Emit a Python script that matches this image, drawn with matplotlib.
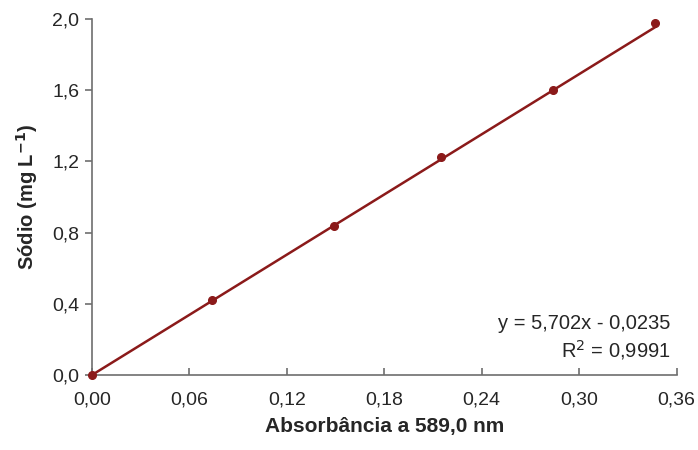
import matplotlib
matplotlib.use("Agg")
import matplotlib.pyplot as plt
import numpy as np
from matplotlib.ticker import FuncFormatter

plt.rcParams["font.family"] = ["Liberation Sans", "DejaVu Sans"]

# Calibration points
absorbance = [0.0, 0.074, 0.149, 0.215, 0.284, 0.347]
sodium = [0.0, 0.42, 0.838, 1.222, 1.602, 1.975]

# Linear fit reported on the chart
slope = 5.702
intercept = -0.0235
r_squared = 0.9991

x_ticks = [0.0, 0.06, 0.12, 0.18, 0.24, 0.30, 0.36]
y_ticks = [0.0, 0.4, 0.8, 1.2, 1.6, 2.0]

red = "#8b1a1a"
axis_grey = "#6e6e6e"
text_col = "#262626"

fig = plt.figure(figsize=(6.98, 4.5), dpi=100)
ax = fig.add_axes([0.1318, 0.1667, 0.8375, 0.7911])

# trendline drawn between the first and last standard
xs = np.array([min(absorbance), max(absorbance)])
ax.plot(xs, np.clip(slope * xs + intercept, 0, None), color=red,
        linewidth=1.8, zorder=2, clip_on=False)
ax.plot(absorbance, sodium, "o", color=red, markersize=5.5, zorder=3,
        clip_on=False)

ax.set_xlim(0, 0.36)
ax.set_ylim(0, 2.0)
ax.set_xticks(x_ticks)
ax.set_yticks(y_ticks)

comma = lambda fmt: FuncFormatter(lambda v, _: format(v, fmt).replace(".", ","))
ax.xaxis.set_major_formatter(comma(".2f"))
ax.yaxis.set_major_formatter(comma(".1f"))

for side in ("top", "right"):
    ax.spines[side].set_visible(False)
for side in ("left", "bottom"):
    ax.spines[side].set_color(axis_grey)
    ax.spines[side].set_linewidth(1.2)

ax.tick_params(axis="x", direction="in", length=5, width=1.2,
               color=axis_grey, labelsize=14, pad=12, labelcolor=text_col)
ax.tick_params(axis="y", direction="out", length=5, width=1.2,
               color=axis_grey, labelsize=14, pad=4, labelcolor=text_col)

ax.set_xlabel("Absorbância a 589,0 nm", fontsize=15, fontweight="bold",
              color=text_col, labelpad=6)
ax.set_ylabel("Sódio (mg L$^{\\mathbf{-1}}$)", fontsize=14.5, fontweight="bold",
              color=text_col, labelpad=9)

eq = f"y = {slope:.3f}x - {abs(intercept):.4f}".replace(".", ",")
r2 = f"R$^2$ = {r_squared:.4f}".replace(".", ",")
ax.text(0.99, 0.146, eq, transform=ax.transAxes, ha="right", va="center",
        fontsize=14.5, color=text_col)
ax.text(0.99, 0.07, r2, transform=ax.transAxes, ha="right", va="center",
        fontsize=14.5, color=text_col)

fig.savefig("out.png", dpi=100)
